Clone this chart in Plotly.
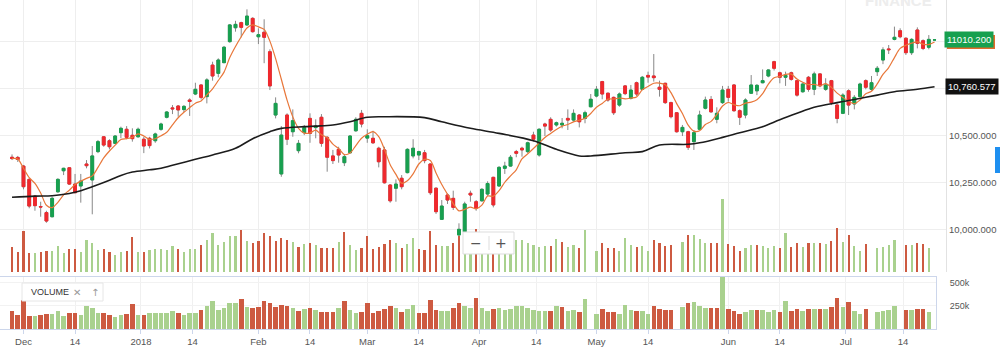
import pandas as pd
import plotly.graph_objects as go

# ---------------- data ----------------
holidays = ["2018-01-01", "2018-01-15", "2018-01-26", "2018-02-19",
            "2018-03-29", "2018-03-30", "2018-04-25"]
dates = [d for d in pd.bdate_range("2017-11-29", "2018-07-23")
         if d.strftime("%Y-%m-%d") not in holidays]

opens = [10385, 10384, 10338, 10267, 10178, 10122, 10090, 10068, 10201, 10313,
         10329, 10242, 10232, 10349, 10264, 10415, 10494, 10473, 10459, 10516,
         10534, 10502, 10494, 10481, 10486, 10473, 10534, 10598, 10648, 10658,
         10639, 10690, 10722, 10770, 10708, 10876, 10832, 10889, 11001, 11075,
         11102, 11090, 11125, 11027, 11051, 10947, 10610, 10296, 10610, 10521,
         10420, 10516, 10592, 10543, 10598, 10491, 10392, 10427, 10356, 10409,
         10526, 10619, 10487, 10486, 10433, 10424, 10237, 10220, 10273, 10303,
         10392, 10397, 10409, 10349, 10220, 10054, 10184, 10166, 9971, 9988,
         10193, 10148, 10153, 10189, 10278, 10232, 10326, 10338, 10415, 10433,
         10415, 10503, 10397, 10562, 10587, 10557, 10557, 10592, 10583, 10610,
         10592, 10654, 10711, 10788, 10726, 10704, 10663, 10765, 10699, 10782,
         10747, 10821, 10818, 10758, 10779, 10676, 10622, 10521, 10521, 10468,
         10534, 10646, 10693, 10587, 10676, 10747, 10770, 10633, 10610, 10726,
         10739, 10782, 10818, 10894, 10835, 10811, 10835, 10793, 10734, 10811,
         10747, 10829, 10747, 10793, 10663, 10619, 10739, 10669, 10708, 10793,
         10747, 10841, 10903, 10962, 11013, 11059, 11019, 10942, 11063, 11006,
         10971, 11010]
highs = [10400, 10392, 10344, 10273, 10184, 10148, 10100, 10175, 10273, 10329,
         10332, 10296, 10296, 10370, 10445, 10477, 10498, 10481, 10503, 10548,
         10551, 10539, 10543, 10494, 10494, 10516, 10569, 10631, 10663, 10663,
         10663, 10699, 10782, 10773, 10806, 10894, 10912, 10978, 11095, 11112,
         11107, 11173, 11131, 11072, 11120, 10960, 10704, 10551, 10619, 10640,
         10477, 10557, 10619, 10587, 10615, 10498, 10424, 10441, 10397, 10503,
         10598, 10637, 10534, 10526, 10441, 10441, 10242, 10267, 10290, 10433,
         10481, 10420, 10424, 10353, 10225, 10157, 10193, 10207, 10033, 10148,
         10207, 10157, 10220, 10257, 10281, 10338, 10361, 10397, 10424, 10441,
         10468, 10521, 10539, 10569, 10598, 10575, 10594, 10640, 10640, 10615,
         10633, 10722, 10764, 10792, 10730, 10708, 10730, 10770, 10770, 10788,
         10818, 10841, 10935, 10793, 10782, 10681, 10626, 10557, 10526, 10530,
         10633, 10708, 10711, 10651, 10765, 10765, 10775, 10640, 10699, 10823,
         10775, 10853, 10853, 10899, 10841, 10841, 10841, 10797, 10782, 10818,
         10841, 10832, 10806, 10797, 10672, 10726, 10747, 10716, 10782, 10800,
         10818, 10871, 10971, 10983, 11081, 11072, 11024, 11019, 11077, 11013,
         11036, 11013]
lows = [10370, 10360, 10214, 10113, 10100, 10068, 10036, 10065, 10196, 10290,
        10237, 10193, 10143, 10326, 10081, 10407, 10441, 10427, 10455, 10486,
        10481, 10468, 10490, 10407, 10432, 10462, 10526, 10592, 10615, 10601,
        10626, 10605, 10716, 10693, 10672, 10793, 10811, 10886, 10995, 11054,
        11024, 11084, 11049, 10988, 10886, 10743, 10592, 10281, 10450, 10494,
        10406, 10503, 10462, 10486, 10441, 10308, 10349, 10356, 10338, 10405,
        10521, 10544, 10462, 10456, 10331, 10245, 10143, 10148, 10214, 10299,
        10379, 10370, 10353, 10184, 10083, 10051, 10136, 10104, 9962, 9980,
        10148, 10100, 10148, 10178, 10118, 10228, 10296, 10335, 10385, 10388,
        10406, 10468, 10388, 10498, 10521, 10548, 10539, 10530, 10574, 10544,
        10566, 10651, 10704, 10694, 10681, 10610, 10654, 10716, 10693, 10711,
        10743, 10782, 10788, 10708, 10669, 10592, 10516, 10498, 10424, 10424,
        10530, 10640, 10622, 10566, 10669, 10681, 10627, 10557, 10592, 10722,
        10716, 10779, 10811, 10847, 10779, 10765, 10793, 10708, 10729, 10734,
        10716, 10758, 10739, 10663, 10566, 10615, 10610, 10640, 10704, 10747,
        10739, 10818, 10881, 10935, 11008, 11019, 10930, 10930, 10965, 10956,
        10960, 11008]
closes = [10378, 10373, 10228, 10125, 10127, 10120, 10045, 10166, 10267, 10326,
          10242, 10196, 10258, 10340, 10392, 10468, 10450, 10441, 10498, 10539,
          10491, 10484, 10534, 10445, 10447, 10509, 10562, 10626, 10643, 10637,
          10656, 10682, 10747, 10704, 10797, 10818, 10903, 10971, 11090, 11093,
          11077, 11137, 11054, 11038, 11024, 10765, 10672, 10503, 10481, 10580,
          10459, 10543, 10512, 10551, 10459, 10385, 10367, 10397, 10388, 10498,
          10587, 10562, 10500, 10462, 10361, 10249, 10153, 10242, 10228, 10427,
          10433, 10415, 10367, 10196, 10095, 10125, 10157, 10118, 10001, 10136,
          10184, 10113, 10214, 10245, 10131, 10331, 10338, 10385, 10406, 10424,
          10462, 10481, 10534, 10551, 10530, 10569, 10566, 10583, 10619, 10574,
          10622, 10694, 10747, 10722, 10690, 10622, 10722, 10724, 10743, 10722,
          10811, 10812, 10809, 10747, 10676, 10601, 10521, 10544, 10438, 10516,
          10610, 10690, 10627, 10619, 10743, 10704, 10633, 10598, 10690, 10770,
          10768, 10793, 10850, 10859, 10811, 10821, 10800, 10716, 10775, 10747,
          10829, 10765, 10770, 10676, 10592, 10716, 10663, 10704, 10775, 10758,
          10782, 10859, 10957, 10958, 11024, 11027, 10942, 11013, 10992, 10965,
          11013, 11010.2]
volume_k = [189, 154, 310, 143, 143, 150, 161, 161, 196, 143,
            175, 175, 150, 243, 221, 168, 175, 150, 132, 150,
            161, 268, 150, 150, 168, 175, 175, 168, 196, 175,
            150, 175, 175, 204, 243, 296, 204, 229, 275, 275,
            321, 236, 221, 236, 300, 275, 236, 261, 243, 229,
            189, 214, 221, 204, 182, 182, 182, 229, 304, 204,
            168, 182, 275, 175, 189, 214, 243, 221, 182, 211,
            261, 175, 168, 314, 204, 196, 196, 221, 275, 250,
            221, 329, 221, 196, 214, 229, 207, 214, 243, 243,
            225, 207, 189, 196, 196, 250, 232, 189, 207, 182,
            321, None, 164, 218, 182, 182, 164, 261, 207, 189,
            196, 164, 243, 218, 200, 207, None, 232, 279, 286,
            250, 225, 221, 225, 557, 214, 196, 164, 182, 207,
            207, 200, 186, 200, 182, 300, 189, 218, 189, 218,
            218, 218, 214, 236, 332, 232, 286, 196, 164, 214,
            None, 182, 189, 207, 243, None, 204, 204, 218, 214,
            182, None]

# long moving average (candle number, value)
ma_long_num = [1, 5, 8, 11, 13, 15, 18, 20, 22, 25, 27, 29, 33, 36, 40, 43, 46,
               48, 52, 54, 57, 60, 63, 66, 73, 76, 81, 86, 92, 96, 100, 102,
               108, 111, 114, 119, 121, 125, 128, 132, 135, 138, 141, 145, 148,
               152, 155, 159, 162]
ma_long_val = [10172, 10178, 10180, 10192, 10207, 10228, 10262, 10288, 10306,
               10318, 10326, 10342, 10374, 10397, 10433, 10484, 10521, 10539,
               10548, 10551, 10557, 10574, 10598, 10601, 10596, 10574, 10539,
               10512, 10473, 10427, 10392, 10392, 10409, 10415, 10450, 10454,
               10462, 10491, 10516, 10548, 10585, 10619, 10651, 10676, 10693,
               10716, 10734, 10747, 10760.577]

tick_dates = ["2017-12-01", "2017-12-14", "2018-01-01", "2018-01-14",
              "2018-02-01", "2018-02-14", "2018-03-01", "2018-03-14",
              "2018-04-01", "2018-04-14", "2018-05-01", "2018-05-14",
              "2018-06-01", "2018-06-14", "2018-07-01", "2018-07-14"]
tick_labels = ["Dec", "14", "2018", "14", "Feb", "14", "Mar", "14",
               "Apr", "14", "May", "14", "Jun", "14", "Jul", "14"]
price_ticks = [10000, 10250, 10500, 10750, 11000]
price_tick_text = ["10,000.000", "10,250.000", "10,500.000", "", ""]  # upper two are hidden behind the value flags
vol_ticks = [250, 500]
vol_tick_text = ["250k", "500k"]

# ---------------- derived ----------------
n = len(closes)
didx = pd.DatetimeIndex(dates)
xs = list(range(n))


def pos(d):
    t = pd.Timestamp(d)
    k = int(didx.searchsorted(t))
    if k < len(didx) and didx[k] == t:
        return k
    return k - 0.5


tickpos = [pos(d) for d in tick_dates]
ma_short = pd.Series(closes).rolling(5, min_periods=1).mean().tolist()
ma_long_x = [k - 1 for k in ma_long_num]
body_hi = [max(o, c) for o, c in zip(opens, closes)]
body_lo = [min(o, c) for o, c in zip(opens, closes)]

VG, VR = "#a9d18e", "#cd5a41"
vcol = [VR] + [VG if closes[i] >= closes[i - 1] else VR for i in range(1, n)]

GREEN, RED = "#17a04f", "#f0282d"
FONT = "Liberation Sans, Arial, sans-serif"

fig = go.Figure()
# volume overlay in main panel
fig.add_trace(go.Bar(x=xs, y=volume_k, marker=dict(color=vcol, line=dict(width=0)),
                     width=0.38, xaxis="x", yaxis="y3"))
# wicks
fig.add_trace(go.Candlestick(x=xs, open=opens, high=highs, low=lows, close=closes,
                             increasing=dict(line=dict(color="#888888", width=1), fillcolor="#888888"),
                             decreasing=dict(line=dict(color="#888888", width=1), fillcolor="#888888"),
                             whiskerwidth=0, xaxis="x", yaxis="y"))
# bodies
fig.add_trace(go.Candlestick(x=xs, open=opens, high=body_hi, low=body_lo, close=closes,
                             increasing=dict(line=dict(color=GREEN, width=1), fillcolor=GREEN),
                             decreasing=dict(line=dict(color=RED, width=1), fillcolor=RED),
                             whiskerwidth=0, xaxis="x", yaxis="y"))
fig.add_trace(go.Scatter(x=xs, y=ma_short, mode="lines",
                         line=dict(color="#e8773a", width=1.2, shape="spline", smoothing=0.8),
                         xaxis="x", yaxis="y"))
fig.add_trace(go.Scatter(x=ma_long_x, y=ma_long_val, mode="lines",
                         line=dict(color="#1c1c1c", width=1.6, shape="spline", smoothing=1.0),
                         xaxis="x", yaxis="y"))
# lower volume panel
fig.add_trace(go.Bar(x=xs, y=volume_k, marker=dict(color=vcol, line=dict(width=0)),
                     width=0.8, xaxis="x2", yaxis="y2"))

H = 355.0
fig.update_layout(
    width=1000, height=355, margin=dict(l=0, r=0, t=0, b=0, autoexpand=False),
    paper_bgcolor="white", plot_bgcolor="white", showlegend=False, hovermode=False,
    font=dict(family=FONT, size=9.5, color="#555555"),
    bargap=0,
    xaxis=dict(domain=[0, 0.946], range=[-2.1, 163.0], anchor="y",
               tickvals=tickpos, showticklabels=False, showgrid=True,
               gridcolor="#eeeeee", zeroline=False, showline=False,
               rangeslider=dict(visible=False), fixedrange=True),
    yaxis=dict(domain=[1 - 272 / H, 1], range=[9773.6, 11222.8], side="right",
               anchor="x", tickvals=price_ticks, ticktext=price_tick_text,
               gridcolor="#eeeeee", showline=True, automargin=False,
               linecolor="#e2e2e2", zeroline=False,
               tickfont=dict(size=9.5, color="#555555")),
    yaxis3=dict(overlaying="y", range=[0, 2075], visible=False, anchor="x"),
    xaxis2=dict(domain=[0, 0.936], range=[-2.1, 161.25], anchor="y2",
                tickvals=tickpos, ticktext=tick_labels, showgrid=True,
                gridcolor="#f0f0f0", showline=True, linecolor="#ccd6eb",
                mirror=True, ticks="outside", ticklen=4, tickcolor="#ccd6eb",
                zeroline=False, automargin=False,
                tickfont=dict(size=9.5, color="#555555")),
    yaxis2=dict(domain=[1 - 329 / H, 1 - 277 / H], range=[0, 558], side="right",
                anchor="x2", tickvals=vol_ticks, ticktext=vol_tick_text,
                showline=True, linecolor="#ccd6eb", gridcolor="#f2f2f2",
                ticks="outside", ticklen=11, tickcolor="rgba(0,0,0,0)",
                zeroline=False, automargin=False,
                tickfont=dict(size=9, color="#555555")),
)


def px(x):
    return x / 1000.0


def py(y):
    return 1 - y / H


last_close = closes[-1]
last_short = ma_short[-1]
last_long = ma_long_val[-1]

shapes = [
    # orange flag of the short average, peeking behind the price flag
    dict(type="rect", xref="paper", yref="y", ysizemode="pixel", yanchor=last_close,
         x0=px(947), x1=px(995), y0=-9, y1=5, fillcolor="#e26b2a",
         line=dict(width=0), layer="above"),
    # zoom buttons
    dict(type="rect", xref="paper", yref="paper", x0=px(463), x1=px(514),
         y0=py(254), y1=py(232), fillcolor="white", line=dict(color="#dddddd", width=1), layer="above"),
    dict(type="line", xref="paper", yref="paper", x0=px(489), x1=px(489),
         y0=py(250), y1=py(236), line=dict(color="#dddddd", width=1), layer="above"),
    # volume legend box
    dict(type="rect", xref="paper", yref="paper", x0=px(22), x1=px(103),
         y0=py(301), y1=py(283), fillcolor="white", line=dict(color="#e6e6e6", width=1), layer="above"),
    # blue tab at right edge
    dict(type="rect", xref="paper", yref="paper", x0=px(995), x1=px(1000),
         y0=py(173), y1=py(147), fillcolor="#1e8ff0", line=dict(width=0), layer="above"),
]
fig.update_layout(shapes=shapes)

anns = [
    dict(text="<b>FINANCE</b>", xref="paper", yref="paper", x=px(898), y=py(1),
         xanchor="center", yanchor="middle", showarrow=False,
         font=dict(size=15, color="#ededed", family=FONT)),
    dict(text=f"{last_close:.3f}", xref="paper", yref="y", x=px(968.5), y=last_close,
         xanchor="center", yanchor="middle", showarrow=False, bgcolor=GREEN,
         font=dict(size=9.5, color="white", family=FONT), borderpad=2),
    dict(text=f"{last_long:,.3f}", xref="paper", yref="y", x=px(971.5), y=last_long,
         xanchor="center", yanchor="middle", showarrow=False, bgcolor="#111111",
         font=dict(size=9.5, color="white", family=FONT), borderpad=2),
    dict(text="−", xref="paper", yref="paper", x=px(476), y=py(243), xanchor="center",
         yanchor="middle", showarrow=False, font=dict(size=14, color="#555555", family="DejaVu Sans")),
    dict(text="+", xref="paper", yref="paper", x=px(501), y=py(243), xanchor="center",
         yanchor="middle", showarrow=False, font=dict(size=14, color="#555555", family="DejaVu Sans")),
    dict(text="VOLUME", xref="paper", yref="paper", x=px(29), y=py(292), xanchor="left",
         yanchor="middle", showarrow=False, font=dict(size=9, color="#333333", family=FONT)),
    dict(text="✕", xref="paper", yref="paper", x=px(77), y=py(292), xanchor="center",
         yanchor="middle", showarrow=False, font=dict(size=10, color="#999999", family="DejaVu Sans")),
    dict(text="↑", xref="paper", yref="paper", x=px(95), y=py(292), xanchor="center",
         yanchor="middle", showarrow=False, font=dict(size=10, color="#999999", family="DejaVu Sans")),
]
fig.update_layout(annotations=anns)

fig.write_html("out.html", config={"displayModeBar": False, "staticPlot": True},
               post_script="document.body.style.margin='0px';")
